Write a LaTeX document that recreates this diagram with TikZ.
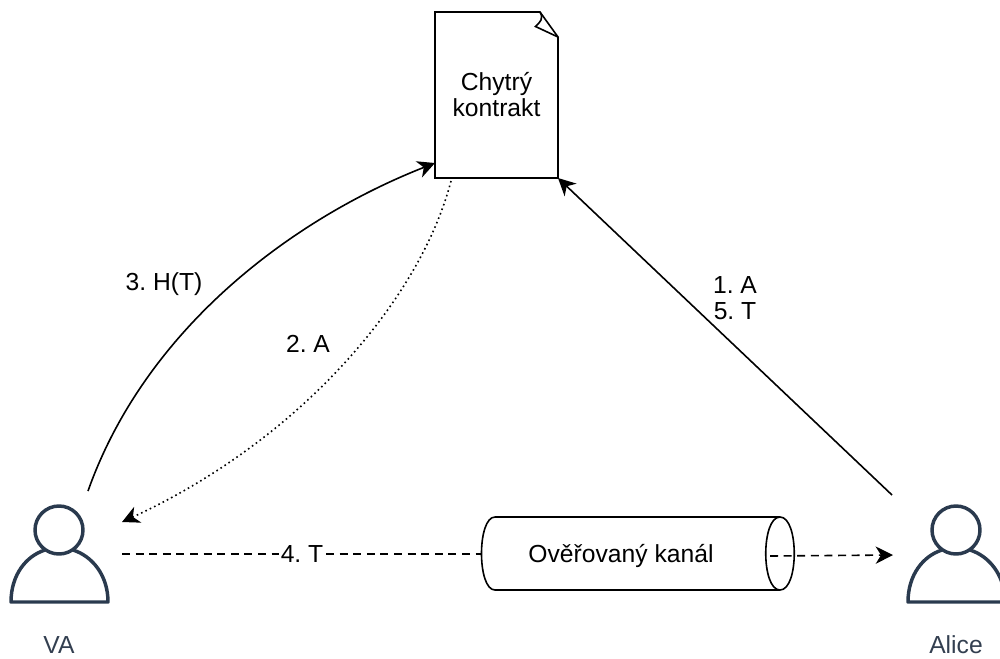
\documentclass[tikz,border=0pt]{standalone}
\usepackage{fontspec}
\setmainfont{Liberation Sans}
\usetikzlibrary{arrows.meta}
\definecolor{personc}{HTML}{2A3A4E}
\definecolor{labelc}{HTML}{333F50}
\tikzset{
  every node/.style={font=\fontsize{18.5}{19.5}\selectfont,inner sep=0pt,outer sep=0pt},
  line/.style={line width=1.2pt,black},
  conn/.style={line,-{Stealth[length=13pt,width=13pt,inset=4pt]}},
  dashconn/.style={conn,dash pattern=on 6pt off 4.2pt},
  dotconn/.style={conn,dash pattern=on 1.2pt off 2.4pt},
  plainlabel/.style={align=center,text=black},
  personline/.style={line width=2.6pt,personc,line join=round},
  personlabel/.style={text=labelc},
  box/.style={minimum width=123*0.75pt,minimum height=166*0.75pt,align=center},
  pipe/.style={minimum width=312*0.75pt,minimum height=73*0.75pt}
}
\begin{document}
\frenchspacing
\begin{tikzpicture}[x=0.75pt,y=-0.75pt]
\clip (0,0) rectangle (1000,658);
\useasboundingbox (0,0) rectangle (1000,658);

% nodes
\node[box] (doc) at (496.5,95) {Chytrý\\kontrakt};
\node[pipe] (cyl) at (638,553.5) {};
\node[minimum width=98*0.75pt,minimum height=97*0.75pt] (va) at (59.5,553.5) {};
\node[minimum width=98*0.75pt,minimum height=97*0.75pt] (alice) at (956.5,553.5) {};
\node[personlabel] (valabel) at (59,645) {VA};
\node[personlabel] (alicelabel) at (956,645) {Alice};
\node[text=black] (cyltext) at (621,556) {Ověřovaný kanál};

% free ends of the connectors
\coordinate (vaout) at (88,491);
\coordinate (vain) at (122,522);
\coordinate (vadash) at (122,554);
\coordinate (alicein) at (893,555);
\coordinate (aliceout) at (892,495);
\coordinate (docdot) at (451,181);
\coordinate (docin) at (435,163);
\coordinate (cylin) at (770,556);

% document
\draw[line,line join=miter] (doc.south west) -- (doc.north west) -- (540,12) -- (558,37) -- (doc.south east) -- cycle;
\draw[line,line join=miter] (540,12) .. controls (544,19) and (540,22) .. (535.5,26.5) -- (558,37);

% channel
\draw[line,line join=round] (495,517) -- (780,517) .. controls (799,517) and (799,590) .. (780,590) -- (495,590)
  .. controls (477,590) and (477,517) .. (495,517) -- cycle;
\draw[line] (780,517) .. controls (761,517) and (761,590) .. (780,590);

% persons
\draw[personline] (59,530) circle[radius=24];
\draw[personline] (45,550) .. controls (26,556) and (11,575) .. (11,602) -- (108,602) .. controls (108,575) and (92,556) .. (73,550);
\draw[personline] (956,530) circle[radius=24];
\draw[personline] (942,550) .. controls (923,556) and (908,575) .. (908,602) -- (1005,602) .. controls (1005,575) and (989,556) .. (970,550);

% connectors
\draw[conn] (vaout) .. controls (145,330) and (290,220) .. (docin);
\draw[dotconn] (docdot) .. controls (420,300) and (300,440) .. (vain);
\draw[conn] (aliceout) -- (doc.south east);
\draw[line,dash pattern=on 6pt off 4.2pt] (vadash) -- (cyl.west |- vadash);
\draw[dashconn] (cylin) -- (alicein);

% connector labels
\node[fill=white,inner xsep=1pt,inner ysep=1pt] (l4) at (302,554) {4. T};
\node[plainlabel] (l3) at (164,284) {3. H(T)};
\node[plainlabel] (l2) at (308,344) {2. A};
\node[plainlabel] (l1) at (735,298) {1. A\\5. T};
\end{tikzpicture}
\end{document}
